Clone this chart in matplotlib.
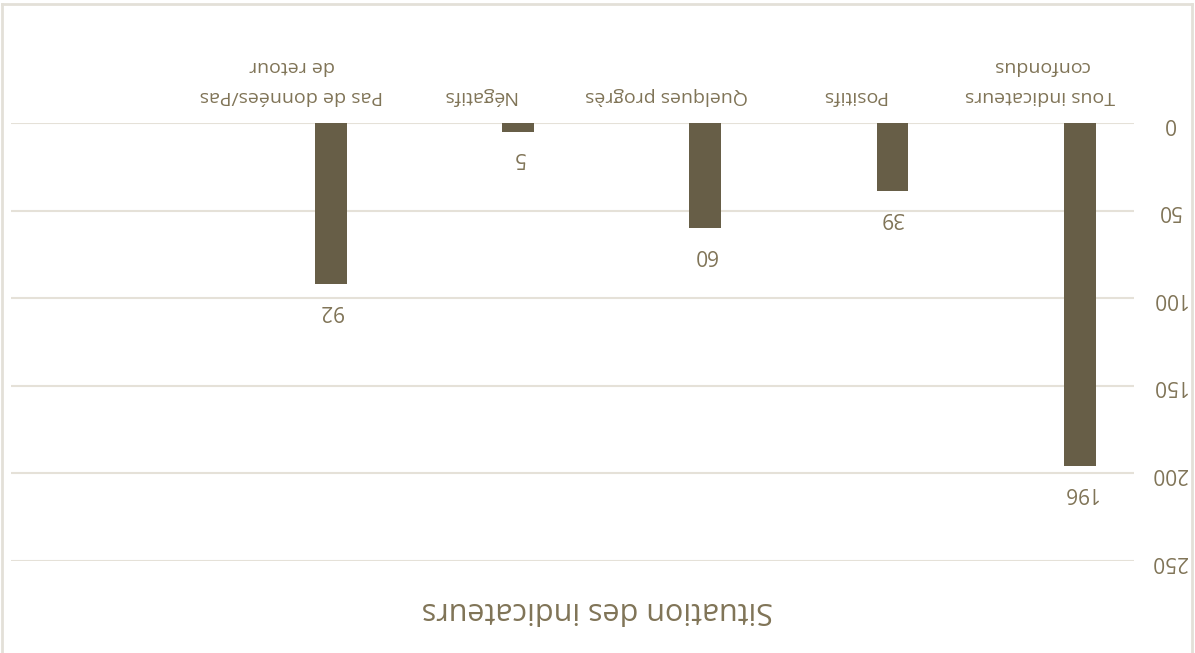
import matplotlib
matplotlib.use("Agg")
import matplotlib.pyplot as plt
from matplotlib.lines import Line2D

# chart is shown rotated by 180 degrees, as in the reference
categories = ["Tous indicateurs\nconfondus", "Positifs", "Quelques progrès",
              "Négatifs", "Pas de données/Pas\nde retour", ""]
values = [196, 39, 60, 5, 92]
yticks = [0, 50, 100, 150, 200, 250]
title = "Situation des indicateurs"

bar_col = "#675E47"
txt_col = "#807457"
grid_col = "#E5E1D8"
plt.rcParams["font.family"] = ["Open Sans", "DejaVu Sans"]

fig = plt.figure(figsize=(11.95, 6.53), dpi=100)
ax = fig.add_axes([11 / 1195, 1 - 561 / 653, (1134 - 11) / 1195, (561 - 123) / 653])

pos = [i - 0.21 for i in range(len(values))]
ax.bar(pos, values, width=0.17, color=bar_col, zorder=3)
for x, v in zip(pos, values):
    ax.annotate(str(v), (x, v), xytext=(0, -26), textcoords="offset pixels",
                ha="center", va="center", rotation=180, fontsize=15, color=txt_col)

ax.set_xlim(5.5, -0.5)
ax.set_ylim(250, 0)
ax.set_yticks(yticks)
ax.yaxis.tick_right()
ax.set_yticklabels([str(t) for t in yticks], rotation=180, fontsize=15,
                   color=txt_col, ha="center", va="center")
ax.tick_params(axis="y", length=0, pad=25)
ax.set_xticks(range(len(categories)))
ax.xaxis.tick_top()
ax.set_xticklabels(categories, rotation=180, fontsize=14, color=txt_col,
                   ha="center", va="bottom", linespacing=1.85)
ax.tick_params(axis="x", length=0, pad=13)
ax.grid(axis="y", color=grid_col, linewidth=1.5, zorder=0)
for s in ax.spines.values():
    s.set_visible(False)

fig.text(597 / 1195, 1 - 610 / 653, title, rotation=180, ha="center", va="center",
         fontsize=22, color=txt_col)

# chart border (top, left, right)
bc = "#E3E0D8"
fig.add_artist(Line2D([1.5 / 1195, 1192 / 1195], [1 - 4 / 653] * 2, color=bc, lw=2))
fig.add_artist(Line2D([1.5 / 1195] * 2, [0, 1 - 4 / 653], color=bc, lw=2))
fig.add_artist(Line2D([1192 / 1195] * 2, [0, 1 - 4 / 653], color=bc, lw=2))

fig.savefig("out.png", dpi=100)
